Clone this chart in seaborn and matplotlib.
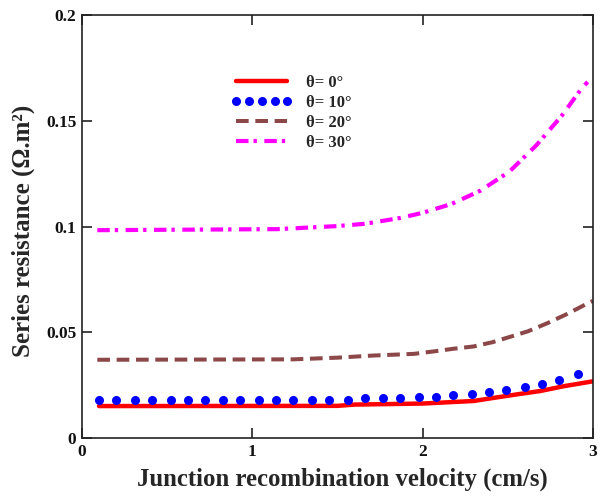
import matplotlib
matplotlib.use("Agg")
import matplotlib.pyplot as plt
import seaborn as sns
import pandas as pd

# ---- data ----
labels = ["θ= 0°", "θ= 10°", "θ= 20°", "θ= 30°"]

x_red = [0.10, 1.50, 1.60, 2.00, 2.30, 2.42, 2.56, 2.69, 2.83, 3.00]
y_red = [0.0151, 0.0152, 0.0158, 0.0163, 0.0175, 0.0190, 0.0207, 0.0222, 0.0245, 0.0268]

x_blue = [0.10, 0.20, 0.31, 0.41, 0.52, 0.62, 0.72, 0.83, 0.93, 1.04, 1.14, 1.24,
          1.35, 1.45, 1.56, 1.66, 1.77, 1.87, 1.98, 2.08, 2.18, 2.29, 2.39, 2.49,
          2.60, 2.70, 2.80, 2.91]
y_blue = [0.0179, 0.0179, 0.0179, 0.0179, 0.0179, 0.0179, 0.0179, 0.0179, 0.0179, 0.0179,
          0.0179, 0.0179, 0.0182, 0.0182, 0.0182, 0.0188, 0.0188, 0.0188, 0.0196, 0.0196,
          0.0202, 0.0210, 0.0218, 0.0226, 0.0240, 0.0256, 0.0273, 0.0303]

x_brown = [0.09, 1.24, 1.50, 1.71, 1.95, 2.07, 2.18, 2.30, 2.41, 2.52, 2.62, 2.73, 2.85, 2.97, 3.00]
y_brown = [0.0370, 0.0372, 0.0380, 0.0390, 0.0398, 0.0410, 0.0422, 0.0433, 0.0453, 0.0480,
           0.0505, 0.0542, 0.0587, 0.0637, 0.0648]

x_mag = [0.09, 1.15, 1.32, 1.49, 1.66, 1.87, 2.00, 2.17, 2.34, 2.51, 2.67, 2.82, 2.94, 2.97]
y_mag = [0.0983, 0.0988, 0.0995, 0.1002, 0.1013, 0.1041, 0.1065, 0.1107, 0.1170, 0.1260,
         0.1386, 0.1527, 0.1660, 0.1684]

x_ticks = [0, 1, 2, 3]
y_ticks = [0, 0.05, 0.1, 0.15, 0.2]
y_ticklabels = ["0", "0.05", "0.1", "0.15", "0.2"]

# ---- style ----
sns.set_style("ticks")
plt.rcParams["font.family"] = ["Liberation Serif", "DejaVu Serif"]
plt.rcParams["font.weight"] = "bold"

fig = plt.figure(figsize=(6.01, 4.98), dpi=100)
ax = fig.add_axes([0.1364, 0.1205, 0.850, 0.849])

df_red = pd.DataFrame({"x": x_red, "y": y_red})
df_blue = pd.DataFrame({"x": x_blue, "y": y_blue})
df_brown = pd.DataFrame({"x": x_brown, "y": y_brown})
df_mag = pd.DataFrame({"x": x_mag, "y": y_mag})

sns.lineplot(data=df_red, x="x", y="y", ax=ax, color="#ff0000", lw=3.2,
             estimator=None, sort=False, label=labels[0])
sns.lineplot(data=df_blue, x="x", y="y", ax=ax, color="#0000ff", lw=0,
             marker="o", markersize=6.5, markeredgewidth=0,
             estimator=None, sort=False, label=labels[1])
sns.lineplot(data=df_brown, x="x", y="y", ax=ax, color="#8c4848", lw=2.9,
             dashes=False, estimator=None, sort=False, label=labels[2])
sns.lineplot(data=df_mag, x="x", y="y", ax=ax, color="#ff00ff", lw=3.0,
             estimator=None, sort=False, label=labels[3])

lines = ax.get_lines()
lines[2].set_dashes([3.15, 1.65])
lines[2].set_dash_capstyle("butt")
lines[3].set_dashes([3.0, 1.2, 0.8, 1.8])

ax.set_xlim(0, 3)
ax.set_ylim(0, 0.2)
ax.set_xticks(x_ticks)
ax.set_xticklabels([str(t) for t in x_ticks])
ax.set_yticks(y_ticks)
ax.set_yticklabels(y_ticklabels)

for s in ax.spines.values():
    s.set_visible(True)
    s.set_linewidth(1.2)
    s.set_color("#222222")

ax.tick_params(direction="in", length=7, width=1.2, top=True, right=True,
               labelsize=12.5, colors="#222222", labelcolor="#111111", pad=4)
for lab in ax.get_xticklabels() + ax.get_yticklabels():
    lab.set_fontweight("bold")

ax.set_xlabel("Junction recombination velocity (cm/s)", fontsize=17.8, fontweight="bold")
ax.set_ylabel("Series resistance (Ω.m²)", fontsize=18, fontweight="bold")
ax.xaxis.set_label_coords(0.51, -0.071)
ax.yaxis.set_label_coords(-0.092, 0.489)

leg = ax.legend(loc="upper left", bbox_to_anchor=(0.262, 0.895), frameon=False,
                handlelength=3.7, handletextpad=0.8, labelspacing=0.25, numpoints=5,
                prop={"family": "Liberation Serif", "weight": "bold", "size": 12})
for t in leg.get_texts():
    t.set_fontweight("bold")

fig.savefig("out.png", dpi=100)
